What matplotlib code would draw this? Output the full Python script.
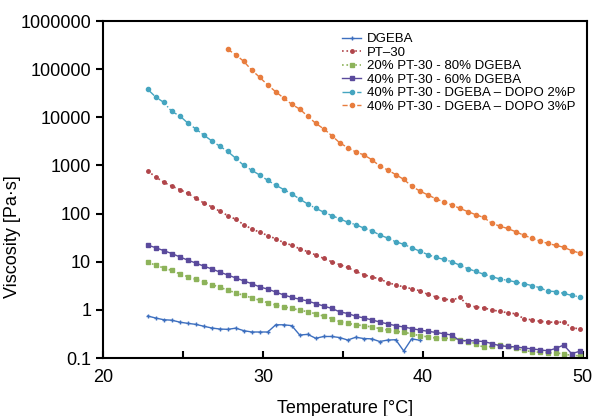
import matplotlib
matplotlib.use("Agg")
import matplotlib.pyplot as plt
from matplotlib.ticker import FixedLocator, NullLocator

plt.rcParams['font.family'] = ['Liberation Sans', 'DejaVu Sans']

# --- data ---
temps = [22.8, 23.3, 23.8, 24.3, 24.8, 25.3, 25.8, 26.3, 26.8, 27.3,
         27.8, 28.3, 28.8, 29.3, 29.8, 30.3, 30.8, 31.3, 31.8, 32.3,
         32.8, 33.3, 33.8, 34.3, 34.8, 35.3, 35.8, 36.3, 36.8, 37.3,
         37.8, 38.3, 38.8, 39.3, 39.8, 40.3, 40.8, 41.3, 41.8, 42.3,
         42.8, 43.3, 43.8, 44.3, 44.8, 45.3, 45.8, 46.3, 46.8, 47.3,
         47.8, 48.3, 48.8, 49.3, 49.8]

dgeba = [0.745, 0.676, 0.624, 0.61, 0.556, 0.525, 0.50, 0.457, 0.42, 0.40,
         0.394, 0.417, 0.37, 0.347, 0.347, 0.347, 0.49, 0.49, 0.47, 0.30,
         0.31, 0.257, 0.28, 0.28, 0.266, 0.236, 0.27, 0.254, 0.25, 0.22,
         0.236, 0.24, 0.14, 0.25, 0.234]

pt30 = [766, 575, 447, 372, 316, 263, 209, 166, 138, 112,
        91, 76, 59, 48, 41, 35, 30, 25, 22, 18.6,
        16.2, 13.8, 11.7, 10, 8.7, 7.6, 6.3, 5.4, 4.8, 4.4,
        3.7, 3.3, 3.0, 2.75, 2.5, 2.1, 1.86, 1.7, 1.58, 1.82,
        1.26, 1.15, 1.10, 1.00, 0.93, 0.87, 0.83, 0.66, 0.62, 0.58,
        0.56, 0.55, 0.56, 0.43, 0.40]

pt20_dg80 = [9.7, 8.5, 7.4, 6.6, 5.6, 4.9, 4.3, 3.8, 3.35, 2.95,
             2.57, 2.26, 2.0, 1.78, 1.58, 1.41, 1.26, 1.16, 1.07, 0.99,
             0.91, 0.83, 0.74, 0.66, 0.57, 0.525, 0.49, 0.47, 0.44, 0.41,
             0.38, 0.36, 0.34, 0.32, 0.29, 0.275, 0.26, 0.257, 0.257, 0.24,
             0.22, 0.20, 0.166, 0.174, 0.186, 0.174, 0.158, 0.145, 0.135, 0.132,
             0.129, 0.126, 0.123, 0.112, 0.112]

pt40_dg60 = [22.2, 19.5, 17.0, 14.8, 12.6, 10.8, 9.4, 8.1, 7.1, 6.1,
             5.3, 4.6, 4.0, 3.5, 3.0, 2.7, 2.35, 2.04, 1.82, 1.66,
             1.53, 1.35, 1.20, 1.07, 0.91, 0.84, 0.74, 0.68, 0.62, 0.56,
             0.51, 0.47, 0.44, 0.41, 0.38, 0.36, 0.34, 0.32, 0.30, 0.23,
             0.23, 0.226, 0.22, 0.20, 0.18, 0.174, 0.17, 0.162, 0.155, 0.148,
             0.141, 0.158, 0.186, 0.123, 0.138]

dopo2 = [38000, 26300, 20400, 13200, 10700, 7600, 5750, 4270, 3240, 2510,
         1950, 1410, 1000, 794, 631, 490, 389, 316, 257, 200,
         158, 129, 107, 91, 78, 66, 59, 50, 44, 36,
         31, 26, 23, 19.5, 16.6, 14.1, 12.3, 11.2, 10, 8.5,
         7.2, 6.3, 5.5, 4.9, 4.4, 4.1, 3.8, 3.5, 3.2, 2.9,
         2.45, 2.4, 2.2, 2.0, 1.86]

# starts at 27.8 C
dopo3 = [257000, 200000, 145000, 95500, 67600, 46800, 33900, 25100, 18600, 14800,
         10500, 7500, 5750, 4170, 2950, 2340, 1910, 1660, 1320, 977,
         804, 646, 513, 372, 295, 245, 204, 174, 151, 129,
         110, 95, 83, 63, 55, 49, 42, 35.5, 31, 27,
         24, 21.9, 20, 17, 15.1]

labels = ["DGEBA", "PT\u201330", "20% PT-30 - 80% DGEBA", "40% PT-30 - 60% DGEBA",
          "40% PT-30 - DGEBA \u2013 DOPO 2%P", "40% PT-30 - DGEBA \u2013 DOPO 3%P"]
yticks = [0.1, 1, 10, 100, 1000, 10000, 100000, 1000000]
ytick_labels = ["0.1", "1", "10", "100", "1000", "10000", "100000", "1000000"]
xticks = [20, 30, 40, 50]
xticks_minor = [25, 35, 45]

fig = plt.figure(figsize=(5.97, 4.16), dpi=100)
ax = fig.add_axes([0.1725, 0.1394, 0.8105, 0.8101])

ms = 3.0
ax.plot(temps[:len(dgeba)], dgeba, '-', color='#3d6fbf', lw=1.0,
        marker='+', ms=3.5, mew=1.0, label=labels[0])
ax.plot(temps, pt30, ':', color='#b0454a', lw=1.2,
        marker='o', ms=2.5, label=labels[1])
ax.plot(temps, pt20_dg80, ':', color='#8db35a', lw=1.2,
        marker='s', ms=ms, label=labels[2])
ax.plot(temps, pt40_dg60, '-', color='#5a4a9c', lw=1.0,
        marker='s', ms=ms, label=labels[3])
ax.plot(temps, dopo2, '-.', color='#45a5c0', lw=1.0,
        marker='o', ms=ms, label=labels[4])
ax.plot(temps[len(temps) - len(dopo3):], dopo3, '--', color='#e87d3e', lw=1.0,
        marker='o', ms=ms, label=labels[5])

ax.set_yscale('log')
ax.set_xlim(20, 50.25)
ax.set_ylim(0.1, 1000000)
ax.yaxis.set_major_locator(FixedLocator(yticks))
ax.yaxis.set_minor_locator(NullLocator())
ax.set_yticklabels(ytick_labels)
ax.set_xticks(xticks)
ax.set_xticks(xticks_minor, minor=True)

for s in ax.spines.values():
    s.set_linewidth(1.5)
ax.tick_params(axis='y', which='major', labelsize=13, length=5, width=1.5, direction='out')
ax.tick_params(axis='x', which='both', labelsize=13, length=5, width=1.5,
               direction='in', pad=8)

ax.set_xlabel("Temperature [\u00b0C]", fontsize=13, labelpad=10)
ax.set_ylabel("Viscosity [Pa\u00b7s]", fontsize=13)
ax.yaxis.set_label_coords(-0.17, 0.36)

ax.legend(loc='upper left', bbox_to_anchor=(0.47, 1.0), frameon=False,
          fontsize=9.5, labelspacing=0.1, handlelength=1.4, handletextpad=0.5,
          borderaxespad=0.5)

fig.savefig("out.png", dpi=100)
